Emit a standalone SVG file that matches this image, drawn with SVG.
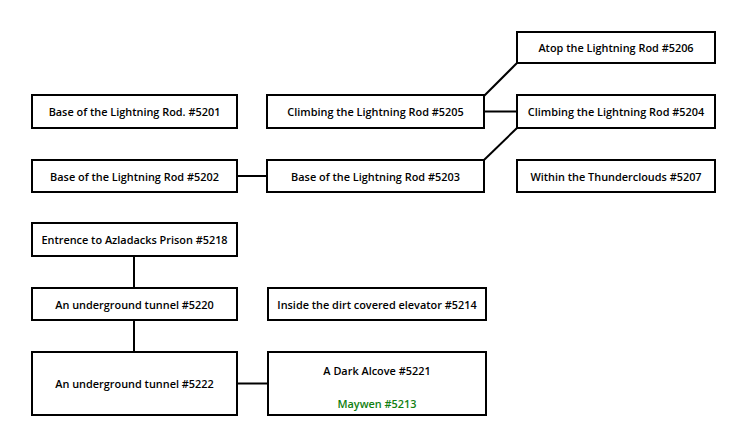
<svg xmlns="http://www.w3.org/2000/svg" width="747" height="448" viewBox="0 0 747 448">
<style>
.n rect{fill:#fff;stroke:#000;stroke-width:2}
text{font-family:"Open Sans","Noto Sans","Liberation Sans",sans-serif;font-size:10.9px;font-weight:600;text-anchor:middle;dominant-baseline:central;fill:#000}
.g{fill:#108010}
.c line{stroke:#000;stroke-width:2}
</style>
<rect width="747" height="448" fill="#fff"/>
<g class="c" id="connectors">
<line x1="484" y1="96" x2="517" y2="63"/>
<line x1="484" y1="111.5" x2="517" y2="111.5"/>
<line x1="484" y1="160" x2="517" y2="128"/>
<line x1="237" y1="176" x2="267" y2="176"/>
<line x1="134" y1="256" x2="134" y2="288"/>
<line x1="134" y1="320" x2="134" y2="352"/>
<line x1="237" y1="383.5" x2="268" y2="383.5"/>
</g>
<g class="n" id="n5206"><rect x="517" y="32" width="198" height="31"/><text x="616" y="47.5">Atop the Lightning Rod #5206</text></g>
<g class="n" id="n5201"><rect x="32" y="95" width="205" height="33"/><text x="134.5" y="111.5">Base of the Lightning Rod. #5201</text></g>
<g class="n" id="n5205"><rect x="267" y="95" width="217" height="33"/><text x="375.5" y="111.5">Climbing the Lightning Rod #5205</text></g>
<g class="n" id="n5204"><rect x="517" y="95" width="198" height="33"/><text x="616" y="111.5">Climbing the Lightning Rod #5204</text></g>
<g class="n" id="n5202"><rect x="32" y="160" width="205" height="32"/><text x="134.5" y="176">Base of the Lightning Rod #5202</text></g>
<g class="n" id="n5203"><rect x="267" y="160" width="217" height="32"/><text x="375.5" y="176">Base of the Lightning Rod #5203</text></g>
<g class="n" id="n5207"><rect x="517" y="160" width="198" height="32"/><text x="616" y="176">Within the Thunderclouds #5207</text></g>
<g class="n" id="n5218"><rect x="32" y="223" width="205" height="33"/><text x="134.5" y="239.5">Entrence to Azladacks Prison #5218</text></g>
<g class="n" id="n5220"><rect x="32" y="288" width="205" height="32"/><text x="134.5" y="304">An underground tunnel #5220</text></g>
<g class="n" id="n5214"><rect x="268" y="288" width="218" height="32"/><text x="377" y="304">Inside the dirt covered elevator #5214</text></g>
<g class="n" id="n5222"><rect x="32" y="352" width="205" height="63"/><text x="134.5" y="383.5">An underground tunnel #5222</text></g>
<g class="n" id="n5221"><rect x="268" y="352" width="218" height="63"/><text x="377" y="370">A Dark Alcove #5221</text><text class="g" x="377" y="403">Maywen #5213</text></g>
</svg>
